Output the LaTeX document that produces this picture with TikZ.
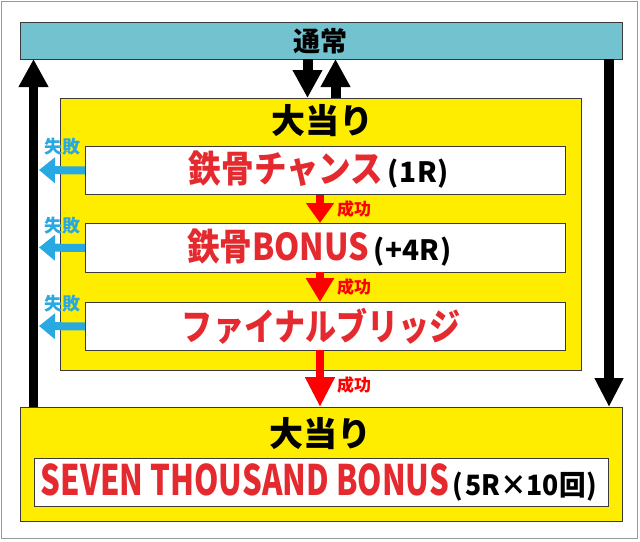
\documentclass[tikz,border=0pt]{standalone}
\usepackage{fontspec}
\setmainfont{Noto Sans CJK JP}
\newfontfamily\jp{Noto Sans CJK JP}
\usetikzlibrary{arrows.meta}
\definecolor{teal1}{HTML}{72C3CF}
\definecolor{ylw}{HTML}{FFED00}
\definecolor{jred}{HTML}{E52A2F}
\definecolor{ared}{HTML}{FF0000}
\definecolor{jblue}{HTML}{29A9E1}
\definecolor{edge}{HTML}{3A3A3A}
\newcommand{\fs}[1]{\fontsize{#1}{#1}\selectfont}
\newcommand{\paren}[1]{\fs{28}\kern4pt(\kern1.5pt#1\kern1pt)}
\begin{document}
\begin{tikzpicture}[x=1pt,y=-1pt,
  box/.style={draw=edge,line width=1pt,inner sep=0pt,anchor=north west},
  lbl/.style={inner sep=0pt,font=\jp\bfseries},
  blk/.style={line width=10pt,-{Triangle[width=28pt,length=28pt]}},
  redar/.style={draw=ared,line width=8pt,-{Triangle[width=27pt,length=20pt]}},
  bluar/.style={draw=jblue,line width=8pt,-{Triangle[width=25pt,length=16pt]}},
  fail/.style={lbl,text=jblue,font=\jp\bfseries\fs{18}},
  succ/.style={lbl,text=ared,font=\jp\bfseries\fs{17}}]
\useasboundingbox (0,0) rectangle (640,541);
\draw[draw=gray!80,line width=1pt] (1,1) rectangle (637,538);
% boxes
\node[box,fill=teal1,minimum width=602pt,minimum height=37pt] (normal) at (20,22) {};
\node[box,fill=ylw,minimum width=521pt,minimum height=272pt] (y1) at (60,98) {};
\node[box,fill=white,minimum width=480pt,minimum height=48pt] (w1) at (85,146) {};
\node[box,fill=white,minimum width=480pt,minimum height=49pt] (w2) at (85,223) {};
\node[box,fill=white,minimum width=480pt,minimum height=48pt] (w3) at (85,302) {};
\node[box,fill=ylw,minimum width=602pt,minimum height=114pt] (y2) at (20,407) {};
\node[box,fill=white,minimum width=574pt,minimum height=48pt] (w4) at (34,457.5) {};
% texts
\node[lbl,font=\jp\bfseries\fs{27}] (tn) at (320.5,41) {通常};
\node[lbl,font=\jp\bfseries\fs{34}] (ta1) at (322,121) {大当り};
\node[lbl] (t1) at (319,170) {\textcolor{jred}{\fs{37}\scalebox{0.88}[1]{鉄骨チャンス}}\paren{1R}};
\node[lbl] (t2) at (319.5,248) {\textcolor{jred}{\fs{37}\scalebox{0.88}[1]{鉄骨}\scalebox{0.87}[1]{BONUS}}\paren{+4R}};
\node[lbl] (t3) at (321.5,326) {\textcolor{jred}{\fs{37}\scalebox{0.84}[1]{ファイナルブリッジ}}};
\node[lbl,font=\jp\bfseries\fs{34}] (ta2) at (320,434) {大当り};
\node[lbl] (t4) at (319,482) {\textcolor{jred}{\fs{42}\scalebox{0.74}[1]{SEVEN THOUSAND BONUS}}\fs{28}\scalebox{0.95}[1]{\paren{5R×10回}}};
% black arrows
\coordinate (dn1) at (307.5,59);
\coordinate (dn2) at (307.5,98);
\coordinate (up1) at (335.5,98);
\coordinate (up2) at (335.5,59);
\coordinate (l1) at (33.5,407);
\coordinate (l2) at (33.5,59);
\coordinate (r1) at (609,59);
\coordinate (r2) at (609,407);
\draw[blk] (dn1) -- (dn2);
\draw[blk] (up1) -- (up2);
\draw[blk,line width=9.5pt] (l1) -- (l2);
\draw[blk,line width=9.5pt,-{Triangle[width=27pt,length=29pt]}] (r1) -- (r2);
% red arrows
\coordinate (a1) at (320,194.5);
\coordinate (a2) at (320,223);
\coordinate (b1) at (320,272);
\coordinate (b2) at (320,302);
\coordinate (c1) at (320,350);
\coordinate (c2) at (320,407);
\draw[redar] (a1) -- (a2);
\draw[redar,-{Triangle[width=27pt,length=24pt]}] (b1) -- (b2);
\draw[redar,-{Triangle[width=28pt,length=30pt]}] (c1) -- (c2);
\node[succ,anchor=west] (s1) at (337,209.5) {成功};
\node[succ,anchor=west] (s2) at (337,287) {成功};
\node[succ,anchor=west] (s3) at (337,385.5) {成功};
% blue arrows
\coordinate (f1) at (39,170);
\coordinate (f2) at (39,247.5);
\coordinate (f3) at (39,326);
\draw[bluar] (w1.west) -- (f1);
\draw[bluar] (w2.west) -- (f2);
\draw[bluar] (w3.west) -- (f3);
\node[fail] (x1) at (62,146.5) {失敗};
\node[fail] (x2) at (62,226) {失敗};
\node[fail] (x3) at (62,304) {失敗};
\end{tikzpicture}
\end{document}
